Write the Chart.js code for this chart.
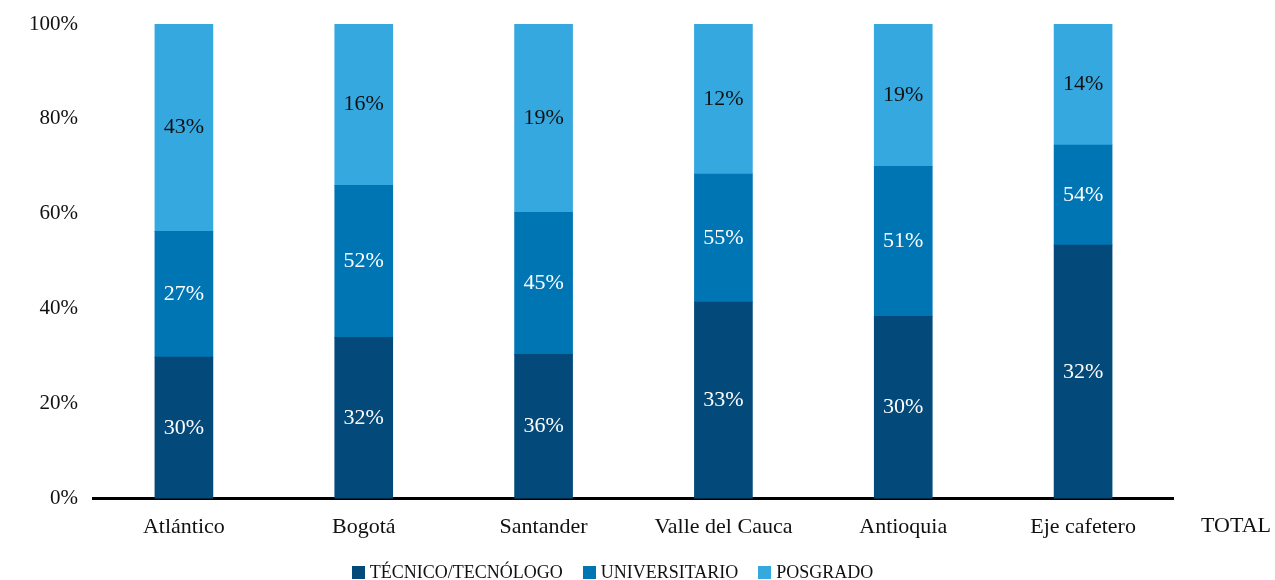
<!DOCTYPE html>
<html>
<head>
<meta charset="utf-8">
<script src="https://cdn.jsdelivr.net/npm/chart.js@4.4.1/dist/chart.umd.min.js"></script>
<style>
  html, body { margin: 0; padding: 0; background: #fff; }
  #wrap { width: 1275px; height: 580px; position: relative; }
  #legend {
    position: absolute; left: 0; right: 0; top: 561px;
    text-align: center; font-family: 'Liberation Serif', 'DejaVu Serif', serif;
    font-size: 18px; color: #111; line-height: 22px; padding-right: 50px;
  }
  #legend span.item { display: inline-block; margin: 0 10px; }
  #legend span.box { display: inline-block; width: 13px; height: 13px; margin-right: 5px; vertical-align: -1px; }
</style>
</head>
<body>
<div id="wrap"><canvas id="chart"></canvas><div id="legend"></div></div>
<script>
const categories = ["Atlántico", "Bogotá", "Santander", "Valle del Cauca", "Antioquia", "Eje cafetero"];
const extraCategory = "TOTAL";

// bar heights (share of 100%)
const tecnico = [29.8, 34.0, 30.4, 41.4, 38.4, 53.4];
const universitario = [26.5, 32.0, 29.9, 27.0, 31.6, 21.1];
const posgrado = [43.7, 34.0, 39.7, 31.6, 30.0, 25.5];

// the printed labels in the picture
const tecnicoLabels = ["30%", "32%", "36%", "33%", "30%", "32%"];
const universitarioLabels = ["27%", "52%", "45%", "55%", "51%", "54%"];
const posgradoLabels = ["43%", "16%", "19%", "12%", "19%", "14%"];

const seriesNames = ["TÉCNICO/TECNÓLOGO", "UNIVERSITARIO", "POSGRADO"];
const seriesColors = ["#034A7B", "#0075B4", "#36A8E0"];

const yTicks = [0, 20, 40, 60, 80, 100];

const serif = "'Liberation Serif', 'DejaVu Serif', serif";

// draws the text labels inside each segment
const segmentLabels = {
  id: "segmentLabels",
  afterDatasetsDraw(chart) {
    const ctx = chart.ctx;
    ctx.save();
    ctx.font = "22px " + serif;
    ctx.textAlign = "center";
    ctx.textBaseline = "middle";
    chart.data.datasets.forEach((ds, di) => {
      const meta = chart.getDatasetMeta(di);
      meta.data.forEach((bar, i) => {
        const mid = (bar.y + bar.base) / 2;
        ctx.fillStyle = ds.labelColor;
        ctx.fillText(ds.printed[i], bar.x, mid);
      });
    });
    ctx.restore();
  }
};

// the extra "TOTAL" category label sitting past the axis end
const extraLabel = {
  id: "extraLabel",
  afterDraw(chart) {
    const ctx = chart.ctx;
    const x = chart.scales.x;
    ctx.save();
    ctx.font = "22px " + serif;
    ctx.fillStyle = "#111";
    ctx.textAlign = "center";
    ctx.textBaseline = "middle";
    ctx.fillText(extraCategory, chart.chartArea.right + 63, x.top + 28);
    ctx.restore();
  }
};

const chart = new Chart(document.getElementById("chart"), {
  type: "bar",
  data: {
    labels: categories,
    datasets: [
      { label: seriesNames[0], data: tecnico, backgroundColor: seriesColors[0], printed: tecnicoLabels, labelColor: "#ffffff" },
      { label: seriesNames[1], data: universitario, backgroundColor: seriesColors[1], printed: universitarioLabels, labelColor: "#ffffff" },
      { label: seriesNames[2], data: posgrado, backgroundColor: seriesColors[2], printed: posgradoLabels, labelColor: "#111111" }
    ]
  },
  options: {
    responsive: true,
    maintainAspectRatio: false,
    animation: false,
    layout: { padding: { left: 21, right: 102, top: 24, bottom: 33 } },
    datasets: { bar: { barThickness: 58 } },
    scales: {
      x: {
        stacked: true,
        grid: { display: false },
        border: { display: true, color: "#000", width: 3 },
        ticks: { color: "#111", font: { family: serif, size: 22 }, padding: 7 }
      },
      y: {
        stacked: true,
        min: 0,
        max: 100,
        afterBuildTicks(axis) { axis.ticks = yTicks.map(v => ({ value: v })); },
        grid: { display: false },
        border: { display: false },
        ticks: {
          color: "#111",
          font: { family: serif, size: 21 },
          padding: 8,
          callback: v => v + "%"
        }
      }
    },
    plugins: {
      legend: { display: false },
      tooltip: { enabled: false }
    }
  },
  plugins: [segmentLabels, extraLabel]
});

// html legend under the chart
document.getElementById("legend").innerHTML = chart.data.datasets.map(ds =>
  '<span class="item"><span class="box" style="background:' + ds.backgroundColor + '"></span>' + ds.label + '</span>'
).join("");
</script>
</body>
</html>
